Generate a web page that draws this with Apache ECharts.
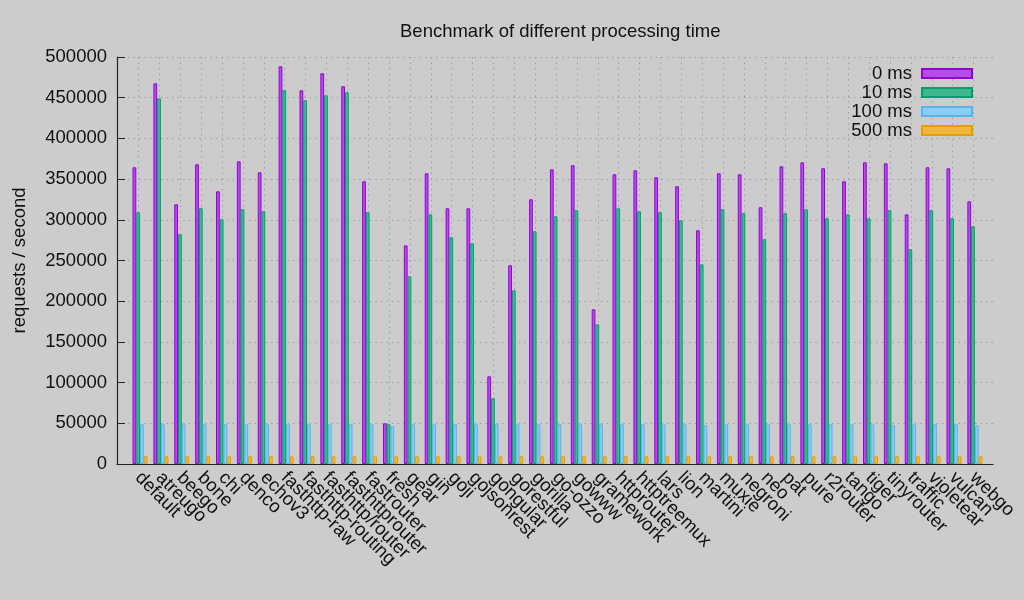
<!DOCTYPE html>
<html>
<head>
<meta charset="utf-8">
<script src="https://cdn.jsdelivr.net/npm/echarts@6/dist/echarts.min.js"></script>
<style>html,body{margin:0;padding:0;background:#cccccc;}#c{width:1024px;height:600px;}</style>
</head>
<body>
<div id="c"></div>
<script>
const categories = ["default","atreugo","beego","bone","chi","denco","echov3","fasthttp-raw","fasthttp-routing","fasthttp/router","fasthttprouter","fastrouter","fresh","gear","gin","goji","gojsonrest","gongular","gorestful","gorilla","go-ozzo","gowww","gramework","httprouter","httptreemux","lars","lion","martini","muxie","negroni","neo","pat","pure","r2router","tango","tiger","tinyrouter","traffic","violetear","vulcan","webgo"];
const seriesNames = ["0 ms","10 ms","100 ms","500 ms"];
const ms0 = [364500,467700,319000,368200,335000,371800,358300,488500,459100,480000,464000,347300,50000,268600,357100,314100,314100,107700,244100,325200,362000,367000,190000,355900,360800,352200,341200,287100,357100,355900,315400,365700,370600,363300,347300,370600,369400,306700,364500,363300,322700];
const ms10 = [309200,449200,282200,314100,300600,312900,310400,459100,446800,452900,456600,309200,48800,230500,306700,278500,271100,80700,213400,285900,304300,311700,171600,314100,310400,309200,299400,245300,312900,308000,276000,308000,312900,301800,306700,301800,311700,263800,311700,301800,292000];
const ms100 = [48800,48800,48800,48800,48800,48800,48800,48800,48800,48800,48800,48800,46300,48800,48800,48800,48800,48800,48800,48800,48800,48800,48800,48800,48800,48800,48800,47500,48800,48800,48800,48800,48800,48800,48800,48800,47500,48800,48800,48800,47500];
const ms500 = [9500,9500,9500,9500,9500,9500,9500,9500,9500,9500,9500,9500,9500,9500,9500,9500,9500,9500,9500,9500,9500,9500,9500,9500,9500,9500,9500,9500,9500,9500,9500,9500,9500,9500,9500,9500,9500,9500,9500,9500,9500];
const yTicks = [0,50000,100000,150000,200000,250000,300000,350000,400000,450000,500000];

const fills = ['#b44ee4','#3fb890','#8ccbf2','#f0b83e'];
const borders = ['#9400d3','#009e73','#56b4e9','#e69f00'];
const FONT = 'Liberation Sans';
const FS = 18.5;
const dotted = {color:'#a0a0a0', width:1, type:[1.5,4]};
const values = [ms0, ms10, ms100, ms500];

const chart = echarts.init(document.getElementById('c'));
chart.setOption({
  backgroundColor:'#cccccc',
  animation:false,
  textStyle:{fontFamily:FONT},
  title:{text:'Benchmark of different processing time', left:395, top:17,
    textStyle:{fontFamily:FONT, fontSize:FS, fontWeight:'normal', color:'#111'}},
  legend:{orient:'vertical', align:'right', right:46, top:59, itemWidth:50, itemHeight:9, itemGap:0,
    data:seriesNames, icon:'rect', selectedMode:false,
    textStyle:{fontFamily:FONT, fontSize:FS, color:'#111', lineHeight:18.7, padding:[0,5,0,0]}},
  grid:[
    {left:129.6, right:38.7, top:57, bottom:136},
    {left:117, right:31, top:57, bottom:136},
    {left:138.5, right:50.5, top:57, bottom:136},
    {left:127.6, right:40.7, top:57, bottom:136}
  ],
  xAxis:[
    {type:'category', gridIndex:0, data:categories, boundaryGap:true, show:false},
    {type:'value', gridIndex:1, min:0, max:1, axisLine:{show:true, lineStyle:{color:'#222', width:1.2}},
      axisTick:{show:false}, axisLabel:{show:false}, splitLine:{show:false}},
    {type:'category', gridIndex:2, data:categories, boundaryGap:false,
      axisLine:{show:false}, axisTick:{show:false}, axisLabel:{show:false},
      splitLine:{show:true, interval:0, lineStyle:dotted}},
    {type:'category', gridIndex:3, data:categories, boundaryGap:true,
      axisLine:{show:false}, axisTick:{show:false}, splitLine:{show:false},
      axisLabel:{rotate:-45, interval:0, margin:11, fontFamily:FONT, fontSize:FS, color:'#111'}}
  ],
  yAxis:[
    {type:'value', gridIndex:0, min:0, max:500000, show:false},
    {type:'value', gridIndex:1, min:0, max:500000, interval:50000,
      name:'requests / second', nameLocation:'middle', nameGap:88,
      nameTextStyle:{fontFamily:FONT, fontSize:FS, color:'#111'},
      axisLine:{show:true, lineStyle:{color:'#222', width:1.2}},
      axisTick:{show:true, inside:true, length:8, lineStyle:{color:'#222'}},
      axisLabel:{margin:10, fontFamily:FONT, fontSize:FS, color:'#111',
        formatter:(v)=> yTicks.indexOf(v) >= 0 ? String(v) : ''},
      splitLine:{show:true, lineStyle:dotted}},
    {type:'value', gridIndex:2, min:0, max:1, show:false},
    {type:'value', gridIndex:3, min:0, max:1, show:false}
  ],
  series: seriesNames.map((n,i)=>({
    name:n, type:'bar', xAxisIndex:0, yAxisIndex:0, data:values[i],
    barWidth:3.75, barGap:'0%',
    itemStyle:{color:fills[i], borderColor:borders[i], borderWidth:1}
  }))
});
</script>
</body>
</html>
